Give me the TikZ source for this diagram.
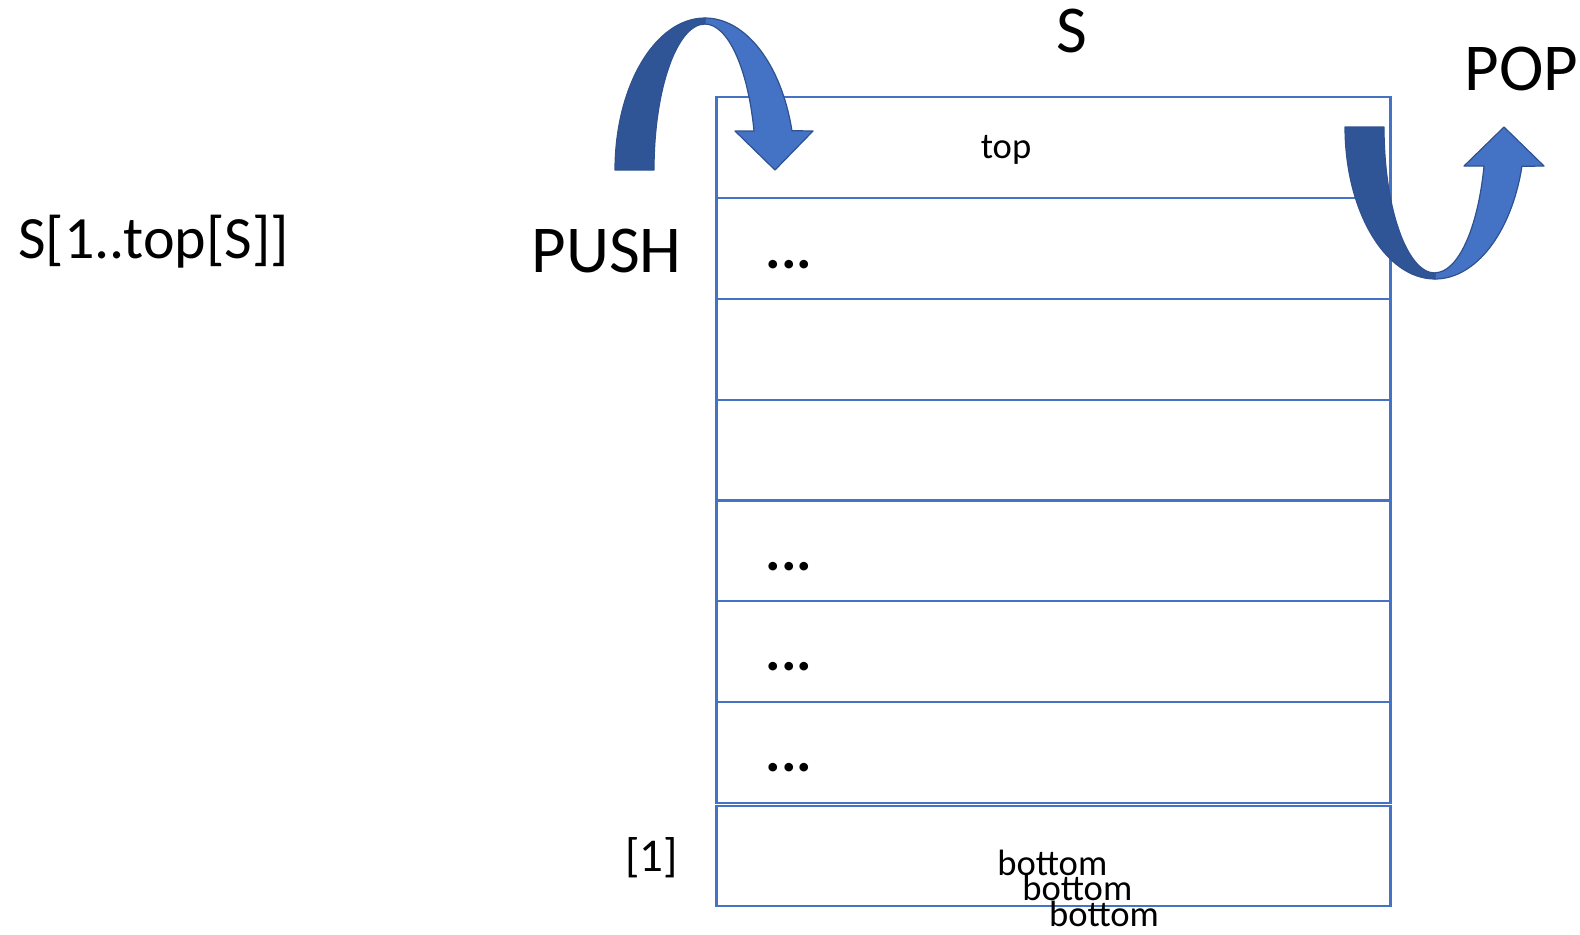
\documentclass[tikz,border=0pt]{standalone}
\usepackage{fontspec}
\setmainfont{Carlito}
\definecolor{stackblue}{HTML}{4472C4}
\definecolor{ribbondark}{HTML}{2F5597}
\definecolor{ribbonedge}{HTML}{2F528F}
\tikzset{
    cellline/.style={draw=stackblue, line width=1.1pt},
    ribbonfront/.style={fill=stackblue, draw=ribbonedge, line width=0.6pt, line join=round},
    ribbonback/.style={fill=ribbondark, draw=ribbonedge, line width=0.6pt, line join=round},
    bigtxt/.style={inner sep=0pt, anchor=base, font=\fontsize{33.5}{39}\selectfont},
    midtxt/.style={inner sep=0pt, anchor=base west, font=\fontsize{30}{35}\selectfont},
    celltxt/.style={inner sep=0pt, anchor=base, font=\fontsize{18.3}{22}\selectfont},
    idxtxt/.style={inner sep=0pt, anchor=base, font=\fontsize{23.5}{28}\selectfont},
    dotstxt/.style={inner sep=0pt, font=\bfseries\fontsize{29}{34}\selectfont}
}

\begin{document}
\begin{tikzpicture}[x=0.5pt,y=-0.5pt]
    \useasboundingbox (0,0) rectangle (1580,934);

    % Celdas de la pila
    \foreach \y in {97.3,198.1,298.9,399.7,500.5,601.3,702.1} {
        \draw[cellline] (716.5,\y) rectangle ++(674,100.8);
    }
    \draw[cellline] (716.5,805.6) rectangle (1390.5,905.8);

    % Textos
    \node[bigtxt] (stackname) at (1071.5,52) {S};
    \node[bigtxt] (pushlbl) at (606.5,272) {PUSH};
    \node[bigtxt, anchor=base west] (poplbl) at (1464,90) {POP};
    \node[midtxt] (arraylbl) at (18,258) {S[1..top[S]]};
    \node[celltxt] (toplbl) at (1006,158) {top};
    \node[idxtxt] (firstidx) at (651.5,871) {[1]};
    \foreach \y in {265,567,667,768} {
        \node[dotstxt] (dots\y) at (789,\y) {...};
    }
    \foreach \x/\y [count=\k] in {1052.3/875, 1077.3/900, 1104/926} {
        \node[celltxt] (bottom\k) at (\x,\y) {bottom};
    }

    % Flecha PUSH
    \draw[ribbonback] (615,170) arc[start angle=180, end angle=270, x radius=90, y radius=152]
        -- (705,24) arc[start angle=270, end angle=180, x radius=51, y radius=146] -- cycle;
    \draw[ribbonfront] (705,18) arc[start angle=270, end angle=345, x radius=90, y radius=152]
        -- (813,131) -- (775,170) -- (735,131) -- (754,131)
        arc[start angle=344.5, end angle=270, x radius=51, y radius=146] -- cycle;

    % Flecha POP
    \draw[ribbonback] (1345,127) arc[start angle=180, end angle=90, x radius=90, y radius=152]
        -- (1435,273) arc[start angle=90, end angle=180, x radius=51, y radius=146] -- cycle;
    \draw[ribbonfront] (1435,279) arc[start angle=90, end angle=15, x radius=90, y radius=152]
        -- (1544,166) -- (1504,127) -- (1464,166) -- (1484,166)
        arc[start angle=15.6, end angle=90, x radius=51, y radius=146] -- cycle;
\end{tikzpicture}
\end{document}
